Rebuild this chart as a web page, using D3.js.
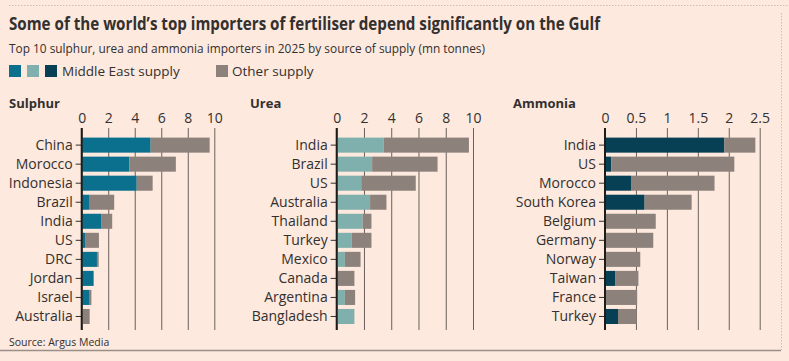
<!DOCTYPE html>
<html lang="en"><head><meta http-equiv="Content-Type" content="text/html; charset=UTF-8">
  <meta charset="utf-8">
  <title>Fertiliser importers</title>
  <script type="text/javascript" src="https://cdn.jsdelivr.net/npm/d3@7"></script>
  <style>
   body { margin: 0; background: #fde9de; }
   svg { display: block; font-family: "Open Sans", sans-serif; }
  </style>
</head>
<body>
  <script type="text/javascript">
   // values, mn tonnes
   var sulphurCountries = ["China", "Morocco", "Indonesia", "Brazil", "India", "US", "DRC", "Jordan", "Israel", "Australia"];
   var sulphurMiddleEast = [5.2, 3.6, 4.15, 0.55, 1.5, 0.25, 1.15, 0.9, 0.55, 0];
   var sulphurOther = [4.45, 3.5, 1.2, 1.9, 0.8, 1.05, 0.13, 0, 0.18, 0.6];

   var ureaCountries = ["India", "Brazil", "US", "Australia", "Thailand", "Turkey", "Mexico", "Canada", "Argentina", "Bangladesh"];
   var ureaMiddleEast = [3.45, 2.6, 1.8, 2.45, 1.9, 1.1, 0.6, 0, 0.6, 1.3];
   var ureaOther = [6.25, 4.8, 4.0, 1.2, 0.65, 1.45, 1.15, 1.3, 0.75, 0];

   var ammoniaCountries = ["India", "US", "Morocco", "South Korea", "Belgium", "Germany", "Norway", "Taiwan", "France", "Turkey"];
   var ammoniaMiddleEast = [1.93, 0.1, 0.42, 0.64, 0, 0, 0, 0.17, 0, 0.21];
   var ammoniaOther = [0.5, 1.99, 1.35, 0.76, 0.82, 0.78, 0.57, 0.37, 0.52, 0.3];

   var tensTicks = [0, 2, 4, 6, 8, 10];
   var ammoniaTicks = [0, 0.5, 1, 1.5, 2, 2.5];

   var width = 789;
   var height = 361;
   var otherColor = "#8c827b";
   var textColor = "#33302e";

   var svg = d3.select("body").append("svg")
               .attr("width", width)
               .attr("height", height);

   svg.append("rect")
      .attr("width", width)
      .attr("height", height)
      .attr("fill", "#fde9de");

   // frame bits from the screenshot
   svg.append("line")
      .attr("x1", 9).attr("x2", width)
      .attr("y1", 5.5).attr("y2", 5.5)
      .attr("stroke", "#cdbfb6")
      .attr("stroke-dasharray", "1.5,1.5");
   svg.append("line")
      .attr("x1", 781.5).attr("x2", 781.5)
      .attr("y1", 13).attr("y2", 350)
      .attr("stroke", "#cdbfb6")
      .attr("stroke-dasharray", "1.5,1.5");
   svg.append("line")
      .attr("x1", 0).attr("x2", 781)
      .attr("y1", 350.5).attr("y2", 350.5)
      .attr("stroke", "#9a908a")
      .attr("stroke-width", 1.5);

   var title = svg.append("text")
      .attr("x", 9)
      .attr("y", 30)
      .attr("font-size", 17.5)
      .attr("font-weight", "bold")
      .attr("fill", textColor)
      .text("Some of the world\u2019s top importers of fertiliser depend significantly on the Gulf");
   title.attr("textLength", 591).attr("lengthAdjust", "spacingAndGlyphs");

   svg.append("text")
      .attr("x", 9)
      .attr("y", 53)
      .attr("font-size", 13.5)
      .attr("fill", textColor)
      .attr("textLength", 476)
      .attr("lengthAdjust", "spacingAndGlyphs")
      .text("Top 10 sulphur, urea and ammonia importers in 2025 by source of supply (mn tonnes)");

   // legend
   var legendSwatches = [
     {x: 9, color: "#0b6f8e"},
     {x: 27, color: "#80b0ad"},
     {x: 45, color: "#073f55"},
     {x: 216, color: otherColor}
   ];
   svg.selectAll(".swatch")
      .data(legendSwatches)
      .enter()
      .append("rect")
      .attr("class", "swatch")
      .attr("x", function(d) { return d.x; })
      .attr("y", 65)
      .attr("width", 12)
      .attr("height", 12)
      .attr("fill", function(d) { return d.color; });

   svg.append("text")
      .attr("x", 62).attr("y", 76)
      .attr("font-size", 13.5)
      .attr("fill", textColor)
      .text("Middle East supply");
   svg.append("text")
      .attr("x", 232).attr("y", 76)
      .attr("font-size", 13.5)
      .attr("fill", textColor)
      .text("Other supply");

   svg.append("text")
      .attr("x", 9).attr("y", 346)
      .attr("font-size", 10.5)
      .attr("fill", textColor)
      .text("Source: Argus Media");

   var gridTop = 128;
   var gridBottom = 330;

   function drawPanel(name, titleX, x0, x1, maxValue, ticks, countries, middleEast, other, meColor) {
     var x = d3.scaleLinear().domain([0, maxValue]).range([x0, x1]);
     var y = d3.scaleBand()
               .domain(countries)
               .range([133.6, 328])
               .padding(0.21);

     var g = svg.append("g").attr("class", name);

     g.append("text")
      .attr("x", titleX)
      .attr("y", 108)
      .attr("font-size", 13)
      .attr("font-weight", "bold")
      .attr("fill", textColor)
      .text(name);

     var xAxis = g.append("g")
                  .attr("transform", "translate(0," + gridTop + ")")
                  .call(d3.axisTop(x)
                          .tickValues(ticks)
                          .tickFormat(d3.format("~g"))
                          .tickSize(-(gridBottom - gridTop))
                          .tickPadding(5));
     xAxis.select(".domain").remove();
     xAxis.selectAll("line")
          .attr("stroke", "#6b615c")
          .attr("stroke-width", 1);
     xAxis.selectAll("text")
          .attr("font-family", "Open Sans, sans-serif")
          .attr("font-size", 14)
          .attr("fill", textColor);

     var stacked = countries.map(function(c, i) {
       return {country: c, me: middleEast[i], other: other[i]};
     });

     var rows = g.append("g")
                 .selectAll(".row")
                 .data(stacked)
                 .enter()
                 .append("g")
                 .attr("class", "row");

     rows.append("rect")
         .attr("x", function(d) { return x(0); })
         .attr("y", function(d) { return y(d.country); })
         .attr("width", function(d) { return x(d.me) - x(0); })
         .attr("height", y.bandwidth())
         .attr("fill", meColor);

     rows.append("rect")
         .attr("x", function(d) { return x(d.me); })
         .attr("y", function(d) { return y(d.country); })
         .attr("width", function(d) { return x(d.me + d.other) - x(d.me); })
         .attr("height", y.bandwidth())
         .attr("fill", otherColor);

     var yAxis = g.append("g")
                  .attr("transform", "translate(" + x(0) + ",0)")
                  .call(d3.axisLeft(y).tickSize(6).tickPadding(3));
     yAxis.select(".domain").remove();
     yAxis.selectAll("line")
          .attr("stroke", textColor);
     yAxis.selectAll("text")
          .attr("font-family", "Open Sans, sans-serif")
          .attr("font-size", 14)
          .attr("fill", textColor);

     // zero line
     g.append("line")
      .attr("x1", x(0)).attr("x2", x(0))
      .attr("y1", gridTop).attr("y2", gridBottom)
      .attr("stroke", "#1f1b19")
      .attr("stroke-width", 2);
   }

   drawPanel("Sulphur", 9, 81.7, 214.3, 10, tensTicks, sulphurCountries, sulphurMiddleEast, sulphurOther, "#0b6f8e");
   drawPanel("Urea", 250, 336.7, 473, 10, tensTicks, ureaCountries, ureaMiddleEast, ureaOther, "#80b0ad");
   drawPanel("Ammonia", 513, 605, 759.7, 2.5, ammoniaTicks, ammoniaCountries, ammoniaMiddleEast, ammoniaOther, "#073f55");
  </script>
</body></html>
